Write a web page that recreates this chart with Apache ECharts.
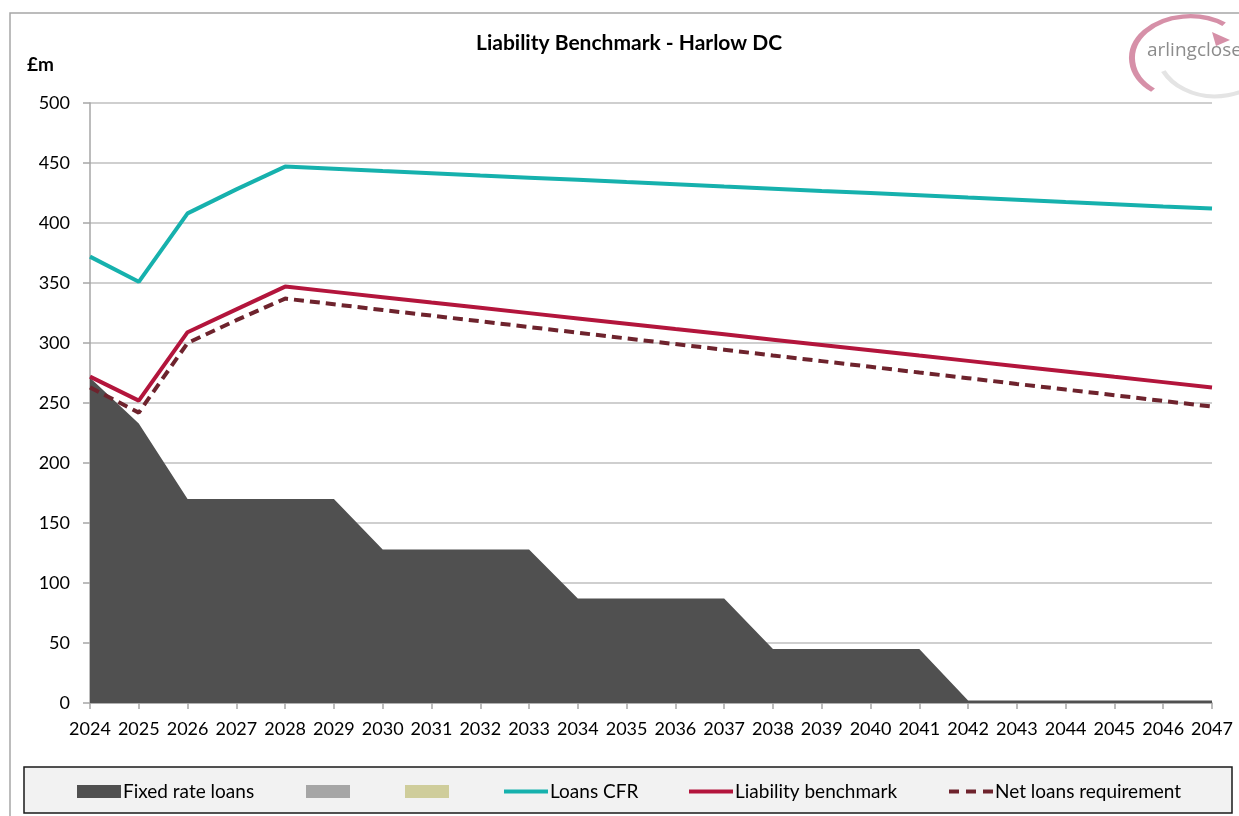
<!DOCTYPE html>
<html><head><meta charset="utf-8">
<script src="https://cdn.jsdelivr.net/npm/echarts@6/dist/echarts.min.js"></script>
<style>html,body{margin:0;padding:0;background:#fff}#c{width:1239px;height:816px}</style>
</head><body><div id="c"></div>
<script>
const years = ['2024','2025','2026','2027','2028','2029','2030','2031','2032','2033','2034','2035','2036','2037','2038','2039','2040','2041','2042','2043','2044','2045','2046','2047'];
const fixedRateLoans = [271,233,170,170,170,170,128,128,128,128,87,87,87,87,45,45,45,45,2,2,2,2,2,2];
const loansCFR = [372,351,408,428,447,445.2,443.3,441.5,439.6,437.8,436.0,434.1,432.3,430.4,428.6,426.7,424.9,423.1,421.2,419.4,417.5,415.7,413.8,412];
const liabilityBenchmark = [272,252,309,328,347,342.6,338.2,333.7,329.3,324.9,320.5,316.1,311.6,307.2,302.8,298.4,294.0,289.5,285.1,280.7,276.3,271.8,267.4,263];
const netLoansRequirement = [263,242,300,319,337,332.3,327.5,322.8,318.1,313.3,308.6,303.8,299.1,294.4,289.6,284.9,280.2,275.4,270.7,265.9,261.2,256.5,251.7,247];
const yTicks = {min:0, max:500, interval:50};

const FONT = 'Lato, "Open Sans", sans-serif';
// legend icons: thin slivers at top/bottom keep the bbox at 44x13 so the bar isn't stretched
const SOLID_ICON = 'path://M0,0L44,0L44,0.01L0,0.01Z M0,4.5L44,4.5L44,8.5L0,8.5Z M0,12.99L44,12.99L44,13L0,13Z';
const DASH_ICON = 'path://M0,0L44,0L44,0.01L0,0.01Z M0,4.5L10,4.5L10,8.5L0,8.5Z M17,4.5L27,4.5L27,8.5L17,8.5Z M34,4.5L44,4.5L44,8.5L34,8.5Z M0,12.99L44,12.99L44,13L0,13Z';
const chart = echarts.init(document.getElementById('c'), null, {renderer:'canvas'});
const legendBase = {top:777, itemWidth:44, itemHeight:13, itemGap:0, symbolKeepAspect:false,
  textStyle:{fontFamily:FONT, fontSize:19, color:'#000', padding:[0,0,0,-3]}, selectedMode:false};
chart.setOption({
  animation:false,
  backgroundColor:'#fff',
  title:{text:'Liability Benchmark - Harlow DC', left:471, top:28, textStyle:{fontFamily:FONT, fontWeight:'bold', fontSize:21, color:'#000'}},
  grid:{left:90, right:27, top:103, bottom:113, containLabel:false},
  legend:[
    Object.assign({}, legendBase, {left:72, data:[{name:'Fixed rate loans', icon:'rect'}]}),
    Object.assign({}, legendBase, {left:301, data:[{name:' ', icon:'rect'}]}),
    Object.assign({}, legendBase, {left:400, data:[{name:'  ', icon:'rect'}]}),
    Object.assign({}, legendBase, {left:499, data:[{name:'Loans CFR', icon:SOLID_ICON}]}),
    Object.assign({}, legendBase, {left:684, data:[{name:'Liability benchmark', icon:SOLID_ICON}]}),
    Object.assign({}, legendBase, {left:944, data:[{name:'Net loans requirement', icon:DASH_ICON}]})
  ],
  xAxis:{type:'category', data:years, boundaryGap:false,
    axisLine:{lineStyle:{color:'#a6a6a6', width:1.5}},
    axisTick:{show:true, length:6, alignWithLabel:true, lineStyle:{color:'#a6a6a6', width:1.5}},
    axisLabel:{fontFamily:FONT, fontSize:18, color:'#000', margin:17, interval:0},
    splitLine:{show:false}},
  yAxis:{type:'value', min:yTicks.min, max:yTicks.max, interval:yTicks.interval,
    axisLine:{show:true, lineStyle:{color:'#a6a6a6', width:1.5}},
    axisTick:{show:true, length:7, lineStyle:{color:'#a6a6a6', width:1.5}},
    axisLabel:{fontFamily:FONT, fontSize:18, color:'#000', margin:20},
    splitLine:{lineStyle:{color:'#bfbfbf', width:1.5}}},
  graphic:[
    {type:'rect', z:-10, shape:{x:10, y:13, width:1400, height:900}, style:{fill:'none', stroke:'#a6a6a6', lineWidth:1.5}, silent:true},
    {type:'rect', z:-5, shape:{x:24, y:767, width:1208, height:46}, style:{fill:'#f2f2f2', stroke:'#1a1a1a', lineWidth:1.5}, silent:true},
    {type:'text', left:27, top:55, style:{text:'£m', fontFamily:FONT, fontWeight:'bold', fontSize:19, fill:'#000'}},
    {type:'arc', shape:{cx:1190, cy:58, r:58, startAngle:Math.PI*0.72, endAngle:Math.PI*1.70}, scaleY:0.72, originY:58, originX:1190, style:{stroke:'#d690a8', lineWidth:6, fill:'none'}, silent:true},
    {type:'polygon', shape:{points:[[1212,32],[1230,40],[1216,46]]}, style:{fill:'#d690a8'}, silent:true},
    {type:'arc', shape:{cx:1215, cy:50, r:58, startAngle:Math.PI*0.18, endAngle:Math.PI*0.85}, scaleY:0.8, originY:50, originX:1215, style:{stroke:'#e4e4e4', lineWidth:5, fill:'none'}, silent:true},
    {type:'text', left:1147, top:41, style:{text:'arlingclose', fontFamily:'"Open Sans", sans-serif', fontSize:19, fill:'#8c8c8c'}}
  ],
  series:[
    {name:'Fixed rate loans', type:'line', data:fixedRateLoans, symbol:'none', color:'#505050',
      lineStyle:{width:0, color:'#505050'}, itemStyle:{color:'#505050'}, areaStyle:{color:'#505050', opacity:1}, z:1},
    {name:' ', type:'line', data:[], symbol:'none', color:'#a6a6a6', itemStyle:{color:'#a6a6a6'}},
    {name:'  ', type:'line', data:[], symbol:'none', color:'#cfcd9b', itemStyle:{color:'#cfcd9b'}},
    {name:'Loans CFR', type:'line', data:loansCFR, symbol:'none', color:'#16b1ad', itemStyle:{color:'#16b1ad'}, lineStyle:{width:4, color:'#16b1ad'}, z:3},
    {name:'Liability benchmark', type:'line', data:liabilityBenchmark, symbol:'none', color:'#b3153c', itemStyle:{color:'#b3153c'}, lineStyle:{width:4, color:'#b3153c'}, z:3},
    {name:'Net loans requirement', type:'line', data:netLoansRequirement, symbol:'none', color:'#6e232d', itemStyle:{color:'#6e232d'}, lineStyle:{width:4, color:'#6e232d', type:[10,6]}, z:3}
  ]
});
</script></body></html>
